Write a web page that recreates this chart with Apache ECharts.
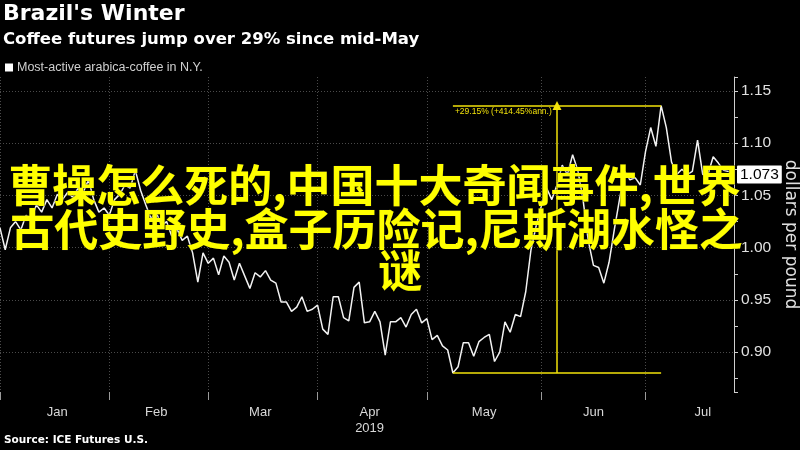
<!DOCTYPE html>
<html><head><meta charset="utf-8">
<script src="https://cdn.jsdelivr.net/npm/echarts@6/dist/echarts.min.js"></script>
<style>html,body{margin:0;padding:0;background:#000}#c{width:800px;height:450px}</style>
</head><body><div id="c"></div>
<script>
const titleText = "Brazil's Winter";
const subtitleText = 'Coffee futures jump over 29% since mid-May';
const seriesName = 'Most-active arabica-coffee in N.Y.';
const sourceText = 'Source: ICE Futures U.S.';
const axisName = 'dollars per pound';

// trading days of 2019 (MM-DD)
const tradingDates = [
 '01-02','01-03','01-04','01-07','01-08','01-09','01-10','01-11','01-14','01-15','01-16','01-17','01-18','01-22','01-23','01-24','01-25','01-28','01-29','01-30','01-31',
 '02-01','02-04','02-05','02-06','02-07','02-08','02-11','02-12','02-13','02-14','02-15','02-19','02-20','02-21','02-22','02-25','02-26','02-27','02-28',
 '03-01','03-04','03-05','03-06','03-07','03-08','03-11','03-12','03-13','03-14','03-15','03-18','03-19','03-20','03-21','03-22','03-25','03-26','03-27','03-28','03-29',
 '04-01','04-02','04-03','04-04','04-05','04-08','04-09','04-10','04-11','04-12','04-15','04-16','04-17','04-18','04-22','04-23','04-24','04-25','04-26','04-29','04-30',
 '05-01','05-02','05-03','05-06','05-07','05-08','05-09','05-10','05-13','05-14','05-15','05-16','05-17','05-20','05-21','05-22','05-23','05-24','05-28','05-29','05-30','05-31',
 '06-03','06-04','06-05','06-06','06-07','06-10','06-11','06-12','06-13','06-14','06-17','06-18','06-19','06-20','06-21','06-24','06-25','06-26','06-27','06-28',
 '07-01','07-02','07-03','07-05','07-08','07-09','07-10','07-11','07-12','07-15','07-16','07-17','07-18','07-19','07-22','07-23','07-24','07-25'
];

const prices = [
 1.019,0.998,1.019,1.025,1.017,1.031,1.027,1.041,1.034,1.046,1.038,1.051,1.046,1.053,1.048,1.057,1.053,1.065,1.046,1.034,1.038,
 1.031,1.046,1.051,1.060,1.057,1.074,1.055,1.041,1.028,1.034,1.021,1.025,1.011,1.018,1.007,1.011,0.995,0.967,0.995,
 0.985,0.990,0.974,0.992,0.986,0.969,0.985,0.973,0.961,0.976,0.972,0.978,0.969,0.966,0.948,0.948,0.939,0.943,0.953,0.939,0.941,
 0.945,0.922,0.917,0.953,0.953,0.933,0.930,0.962,0.967,0.928,0.929,0.939,0.929,0.897,0.929,0.929,0.933,0.924,0.936,0.941,0.928,
 0.932,0.912,0.916,0.906,0.902,0.880,0.886,0.909,0.909,0.896,0.910,0.914,0.917,0.891,0.900,0.929,0.919,0.936,0.934,0.958,0.998,1.021,
 1.040,1.057,1.046,1.060,1.079,1.070,1.089,1.074,1.046,1.007,0.983,0.981,0.966,0.986,1.017,1.046,1.073,1.065,1.067,1.060,
 1.092,1.115,1.097,1.136,1.115,1.082,1.070,1.075,1.070,1.073,1.103,1.070,1.070,1.087,1.081,1.074,1.073,null
];

const monthStarts = ['01-02','02-01','03-01','04-01','05-01','06-03','07-01'];
const monthLabelDates = ['01-17','02-14','03-15','04-15','05-16','06-17','07-17'];
const monthLabels = ['Jan','Feb','Mar','Apr\n2019','May','Jun','Jul'];
const lastValue = 1.073;

const annStart = '05-08', annEnd = '07-05', annMid = '06-06';
const annLow = 0.880, annHigh = 1.136;
const annText = '+29.15% (+414.45%ann.)';

const overlayLines = ['曹操怎么死的,中国十大奇闻事件,世界', '古代史野史,盒子历险记,尼斯湖水怪之', '谜'];

const NARROW = "'Liberation Sans Narrow', 'Liberation Sans', sans-serif";
const BOLD = "'DejaVu Sans', sans-serif";
const YEL = '#f2e20a';
const OVERLAY_FONT = "bold 44px 'Noto Sans CJK SC', sans-serif";

const startSet = new Set(monthStarts);
const labelMap = {};
monthLabelDates.forEach((d, i) => labelMap[d] = monthLabels[i]);

const chart = echarts.init(document.getElementById('c'), null, {renderer: 'canvas'});
chart.setOption({
  backgroundColor: '#000',
  animation: false,
  title: [
    {text: titleText, left: 3, top: 3, padding: 0,
     textStyle: {color: '#fff', fontSize: 22, fontWeight: 'bold', fontFamily: BOLD}},
    {text: subtitleText, left: 3, top: 31, padding: 0,
     textStyle: {color: '#fff', fontSize: 16.5, fontWeight: 'bold', fontFamily: BOLD}},
    {text: sourceText, left: 4, top: 435, padding: 0,
     textStyle: {color: '#fff', fontSize: 10.5, fontWeight: 'bold', fontFamily: BOLD}}
  ],
  legend: {
    data: [seriesName], left: 5, top: 61, padding: 0, icon: 'rect',
    itemWidth: 8, itemHeight: 8, itemGap: 4, selectedMode: false,
    textStyle: {color: '#d0d0d0', fontSize: 12.5, fontFamily: NARROW, padding: [0,0,0,-1]}
  },
  grid: {left: 0, right: 66, top: 77, bottom: 58, containLabel: false, outerBoundsMode: 'none'},
  xAxis: {
    type: 'category', data: tradingDates, boundaryGap: false,
    axisLine: {show: false},
    axisTick: {show: true, length: 8, lineStyle: {color: '#9a9a9a'},
      interval: (i, v) => startSet.has(v)},
    splitLine: {show: true, lineStyle: {color: '#4a4a4a', type: [1, 2]},
      interval: (i, v) => startSet.has(v)},
    axisLabel: {color: '#d8d8d8', fontSize: 13, fontFamily: NARROW, margin: 12, lineHeight: 16,
      interval: (i, v) => labelMap[v] !== undefined,
      formatter: v => labelMap[v] || ''}
  },
  yAxis: {
    type: 'value', position: 'right', min: 0.8618, max: 1.1634, splitNumber: 5, scale: true,
    name: axisName, nameLocation: 'middle', nameRotate: -90, nameGap: 48,
    nameTextStyle: {color: '#e0e0e0', fontSize: 17, fontFamily: "'DejaVu Sans', sans-serif"},
    axisLine: {show: true, lineStyle: {color: '#cfcfcf', width: 1}},
    axisTick: {show: true, length: 4, lineStyle: {color: '#cfcfcf'}},
    minorTick: {show: true, splitNumber: 2, length: 4, lineStyle: {color: '#cfcfcf'}},
    splitLine: {show: true, showMinLine: false, showMaxLine: false, lineStyle: {color: '#4a4a4a', type: [1, 2]}},
    axisLabel: {color: '#e0e0e0', fontSize: 15.5, fontFamily: NARROW, margin: 7,
      showMinLabel: false, showMaxLabel: false,
      formatter: v => v.toFixed(2)}
  },
  series: [{
    name: seriesName, type: 'line', data: prices, showSymbol: false, symbol: 'none',
    color: '#ffffff',
    lineStyle: {color: '#f2f2f2', width: 1.5},
    markLine: {
      silent: true, symbol: 'none', animation: false,
      label: {show: false},
      data: [
        {yAxis: lastValue, lineStyle: {color: 'rgba(0,0,0,0)', width: 0},
         label: {show: true, position: 'end', distance: 3, formatter: lastValue.toFixed(3),
           color: '#000', backgroundColor: '#fff', padding: [2, 3, 0, 3], fontSize: 15.5,
           fontFamily: NARROW, borderRadius: 1}},
        [{coord: [annStart, annHigh], lineStyle: {color: YEL, width: 1.5, type: 'solid'},
          label: {show: true, position: 'insideStartBottom', distance: 2, formatter: annText,
            color: YEL, fontSize: 8.5, fontFamily: NARROW}},
         {coord: [annEnd, annHigh]}],
        [{coord: [annStart, annLow], lineStyle: {color: YEL, width: 1.5, type: 'solid'}},
         {coord: [annEnd, annLow]}],
        [{coord: [annMid, annLow], symbol: 'none', lineStyle: {color: YEL, width: 1.5, type: 'solid'}},
         {coord: [annMid, annHigh], symbol: 'triangle', symbolSize: [9, 9]}]
      ]
    }
  }],
  graphic: [
    {type: 'text', z: 100, left: 8, top: 163,
     style: {text: overlayLines[0], fill: '#ffff00', stroke: '#222', lineWidth: 0.5, font: OVERLAY_FONT}},
    {type: 'text', z: 100, left: 10, top: 207,
     style: {text: overlayLines[1], fill: '#ffff00', stroke: '#222', lineWidth: 0.5, font: OVERLAY_FONT}},
    {type: 'text', z: 100, left: 378, top: 248,
     style: {text: overlayLines[2], fill: '#ffff00', stroke: '#222', lineWidth: 0.5, font: OVERLAY_FONT}}
  ]
});
</script>
</body></html>
